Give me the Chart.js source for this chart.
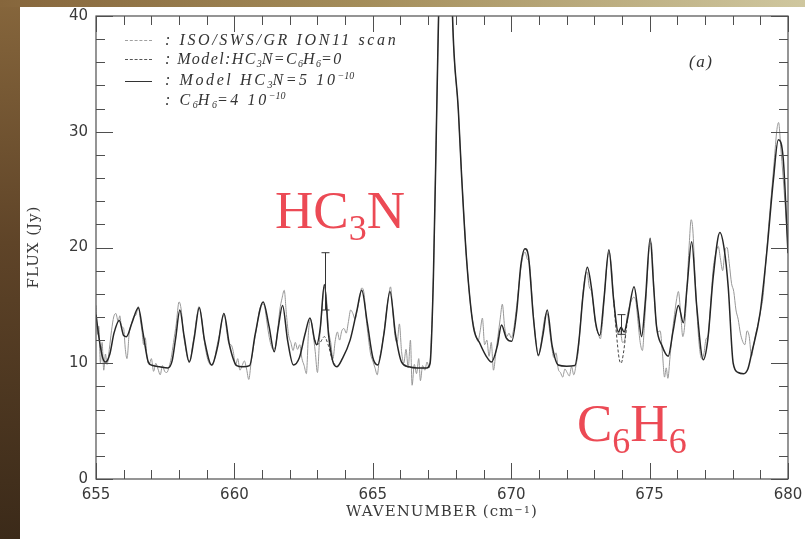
<!DOCTYPE html>
<html>
<head>
<meta charset="utf-8">
<script src="https://cdn.jsdelivr.net/npm/chart.js@4.4.1/dist/chart.umd.min.js"></script>
<style>
  html, body { margin: 0; padding: 0; }
  body { width: 805px; height: 539px; position: relative; overflow: hidden; background: #fff; }
  .edge-left { position: absolute; left: 0; top: 0; width: 20px; height: 539px; background: linear-gradient(180deg, #86663c 0%, #5f4428 45%, #3b2a19 100%); }
  .edge-top { position: absolute; left: 0; top: 0; width: 805px; height: 7px; background: linear-gradient(90deg, #86663c 0%, #a48d5a 45%, #cfc79f 100%); }
  #wrap { position: absolute; left: 20px; top: 7px; width: 785px; height: 532px; }
  .axis-title { position: absolute; font: 15px 'DejaVu Serif', serif; color: #3a3a3a; letter-spacing: 1px; white-space: nowrap; text-align: center; line-height: 20px; }
  .axis-title sup { font-size: 10px; position: relative; top: -3px; vertical-align: baseline; }
  .legend { position: absolute; left: 0; top: 0; font: italic 16px 'Liberation Serif', serif; color: #333; letter-spacing: 2.6px; white-space: nowrap; }
  .legend .row { position: absolute; left: 165px; line-height: 16px; }
  .legend sub { font-size: 10px; vertical-align: baseline; position: relative; top: 3px; letter-spacing: 0; }
  .legend sup { font-size: 10px; vertical-align: baseline; position: relative; top: -6px; letter-spacing: 0; }
  .sample { position: absolute; left: 125px; width: 27px; height: 0; }
  .red { position: absolute; color: #ec4a55; font: 53px 'Liberation Serif', serif; line-height: 53px; white-space: nowrap; }
  .red span { font-size: 36px; position: relative; top: 12px; line-height: 36px; }
</style>
</head>
<body>
<div class="edge-left"></div>
<div class="edge-top"></div>
<div id="wrap"><canvas id="chart" width="785" height="532"></canvas></div>

<div class="legend">
  <div class="sample" style="top:40px;border-top:1px dashed #a0a0a0"></div>
  <div class="sample" style="top:59px;border-top:1px dashed #555"></div>
  <div class="sample" style="top:81px;border-top:1.4px solid #333"></div>
  <div class="row" style="top:32px">: ISO/SWS/GR ION11 scan</div>
  <div class="row" style="top:51px;letter-spacing:1.4px">: Model:HC<sub>3</sub>N=C<sub>6</sub>H<sub>6</sub>=0</div>
  <div class="row" style="top:72px">: Model HC<sub>3</sub>N=5 10<sup>−10</sup></div>
  <div class="row" style="top:92px">: C<sub>6</sub>H<sub>6</sub>=4 10<sup>−10</sup></div>
  <div class="row" style="left:689px;top:54px;font-size:17px;letter-spacing:1.5px">(a)</div>
</div>

<div class="axis-title" style="left:342px;top:501px;width:200px">WAVENUMBER (cm<sup>−1</sup>)</div>
<div class="axis-title" style="left:-27px;top:237px;width:120px;transform:rotate(-90deg)">FLUX (Jy)</div>

<div class="red" style="left:275px;top:184px">HC<span>3</span>N</div>
<div class="red" style="left:577px;top:397px">C<span>6</span>H<span>6</span></div>

<script>
const xTicks = [655, 660, 665, 670, 675, 680]
const yTicks = [0, 10, 20, 30, 40]

// model with HC3N and C6H6 (solid)
const modelWn = [
  655.00, 655.12, 655.25, 655.35, 655.50, 655.65, 655.84, 656.00, 656.10, 656.30,
  656.53, 656.70, 656.89, 657.05, 657.30, 657.60, 657.75, 657.88, 658.03, 658.18,
  658.37, 658.55, 658.73, 658.92, 659.18, 659.40, 659.62, 659.82, 660.08, 660.30,
  660.55, 660.75, 661.04, 661.25, 661.44, 661.58, 661.74, 661.92, 662.13, 662.35,
  662.55, 662.73, 662.90, 662.97, 663.10, 663.25, 663.40, 663.55, 663.70, 663.90,
  664.18, 664.42, 664.60, 664.80, 665.00, 665.18, 665.40, 665.62, 665.82, 666.04,
  666.30, 666.60, 666.95, 667.07, 667.19, 667.31, 667.42, 667.70, 667.88, 668.09,
  668.21, 668.39, 668.63, 668.87, 669.10, 669.29, 669.50, 669.65, 669.82, 670.02,
  670.20, 670.35, 670.50, 670.62, 670.80, 670.98, 671.15, 671.30, 671.48, 671.70,
  672.00, 672.30, 672.45, 672.60, 672.75, 672.90, 673.05, 673.20, 673.35, 673.53,
  673.70, 673.87, 673.97, 674.08, 674.20, 674.44, 674.58, 674.71, 674.85, 675.02,
  675.15, 675.25, 675.45, 675.67, 675.85, 676.04, 676.22, 676.35, 676.52, 676.70,
  676.94, 677.10, 677.30, 677.54, 677.70, 677.84, 678.02, 678.20, 678.40, 678.55,
  678.69, 678.99, 679.23, 679.47, 679.65, 679.83, 680.00
]
const modelFlux = [
  14.2, 12.0, 10.4, 10.1, 10.8, 12.6, 13.7, 12.4, 12.3, 13.5,
  14.8, 12.6, 10.1, 9.8, 9.7, 9.6, 10.2, 12.2, 14.6, 12.4,
  10.1, 12.2, 14.8, 12.0, 9.85, 11.5, 14.3, 11.6, 9.8, 9.7,
  9.8, 12.5, 15.3, 13.2, 11.0, 13.0, 15.0, 12.0, 9.85, 10.5,
  12.5, 13.9, 12.0, 11.6, 13.0, 16.8, 12.5, 10.2, 9.7, 10.4,
  12.0, 14.5, 16.3, 13.5, 10.5, 9.85, 12.5, 16.2, 12.5, 10.1,
  9.7, 9.6, 9.6, 10.0, 17.5, 31.9, 45.0, 62.0, 40.0, 31.9,
  26.1, 18.9, 13.2, 11.7, 10.6, 10.1, 11.5, 13.3, 12.2, 11.9,
  14.5, 18.5, 19.9, 19.3, 14.0, 10.7, 12.5, 14.6, 11.5, 9.85,
  9.75, 9.8, 12.0, 16.0, 18.3, 16.5, 13.5, 12.4, 15.5, 19.8,
  15.5, 12.7, 13.1, 12.7, 13.8, 16.6, 14.5, 12.3, 15.5, 20.8,
  16.5, 13.2, 11.5, 10.6, 12.8, 15.0, 13.5, 16.5, 20.5, 15.0,
  10.3, 12.0, 17.5, 21.3, 19.8, 16.6, 10.0, 9.2, 9.1, 9.5,
  10.9, 14.3, 19.5, 25.8, 29.3, 27.6, 19.5
]

// model without HC3N / C6H6 (dashed), only where it leaves the solid curve
const baseWn = [662.90, 662.97, 663.10, 663.25, 663.40, 663.55, 663.70, null,
  673.70, 673.80, 673.90, 673.97, 674.05, 674.20]
const baseFlux = [12.0, 11.6, 11.8, 12.3, 11.5, 10.2, 9.7, null,
  15.5, 12.6, 10.4, 10.0, 10.8, 13.8]

// ISO/SWS observed scan (grey)
const obsWn = [
  655.00, 655.06, 655.10, 655.16, 655.22, 655.28, 655.34, 655.40, 655.48, 655.56,
  655.64, 655.72, 655.80, 655.86, 655.92, 656.00, 656.06, 656.12, 656.20, 656.28,
  656.36, 656.45, 656.53, 656.60, 656.66, 656.72, 656.78, 656.84, 656.92, 657.00,
  657.08, 657.16, 657.24, 657.32, 657.40, 657.48, 657.56, 657.64, 657.72, 657.80,
  657.90, 658.00, 658.08, 658.16, 658.24, 658.32, 658.40, 658.48, 658.56, 658.64,
  658.72, 658.80, 658.88, 658.96, 659.04, 659.12, 659.20, 659.28, 659.38, 659.48,
  659.56, 659.64, 659.72, 659.80, 659.88, 659.96, 660.04, 660.12, 660.20, 660.28,
  660.36, 660.44, 660.52, 660.60, 660.70, 660.80, 660.90, 661.00, 661.08, 661.16,
  661.24, 661.32, 661.40, 661.48, 661.56, 661.64, 661.72, 661.80, 661.88, 661.96,
  662.04, 662.12, 662.20, 662.28, 662.36, 662.44, 662.52, 662.60, 662.68, 662.76,
  662.84, 662.92, 663.00, 663.08, 663.16, 663.24, 663.32, 663.40, 663.48, 663.56,
  663.64, 663.72, 663.80, 663.88, 663.96, 664.04, 664.12, 664.20, 664.28, 664.36,
  664.44, 664.52, 664.60, 664.68, 664.76, 664.84, 664.92, 665.00, 665.08, 665.16,
  665.24, 665.32, 665.40, 665.48, 665.56, 665.64, 665.72, 665.80, 665.88, 665.96,
  666.04, 666.12, 666.20, 666.28, 666.36, 666.42, 666.50, 666.58, 666.66, 666.72,
  666.80, 666.88, 666.96, 667.04, 667.10, 667.19, 667.31, 667.42, 667.70, 667.88,
  668.09, 668.21, 668.39, 668.55, 668.63, 668.72, 668.80, 668.88, 668.96, 669.04,
  669.12, 669.20, 669.28, 669.36, 669.44, 669.52, 669.60, 669.68, 669.76, 669.84,
  669.92, 670.00, 670.10, 670.20, 670.30, 670.40, 670.50, 670.58, 670.66, 670.74,
  670.82, 670.90, 670.98, 671.06, 671.14, 671.22, 671.30, 671.38, 671.46, 671.54,
  671.62, 671.70, 671.78, 671.86, 671.94, 672.02, 672.10, 672.18, 672.26, 672.34,
  672.42, 672.50, 672.58, 672.66, 672.74, 672.82, 672.90, 672.98, 673.06, 673.14,
  673.22, 673.30, 673.38, 673.46, 673.54, 673.62, 673.70, 673.78, 673.86, 673.94,
  674.02, 674.10, 674.18, 674.26, 674.34, 674.42, 674.50, 674.58, 674.66, 674.74,
  674.82, 674.90, 674.98, 675.06, 675.14, 675.22, 675.30, 675.38, 675.46, 675.54,
  675.60, 675.66, 675.74, 675.82, 675.90, 675.98, 676.04, 676.12, 676.20, 676.28,
  676.36, 676.44, 676.50, 676.56, 676.64, 676.72, 676.80, 676.88, 676.96, 677.04,
  677.12, 677.20, 677.30, 677.40, 677.48, 677.56, 677.64, 677.72, 677.80, 677.88,
  677.96, 678.04, 678.12, 678.20, 678.28, 678.36, 678.44, 678.52, 678.60, 678.68,
  678.76, 678.84, 678.92, 679.00, 679.10, 679.20, 679.30, 679.40, 679.50, 679.60,
  679.66, 679.74, 679.82, 679.90, 680.00
]
const obsFlux = [
  15.0, 12.5, 13.2, 10.0, 11.8, 9.4, 10.8, 9.9, 11.2, 12.8,
  14.0, 14.3, 13.6, 14.1, 13.2, 13.0, 11.2, 10.4, 12.6, 13.4,
  14.0, 14.2, 14.9, 13.8, 12.8, 11.6, 12.2, 10.6, 9.9, 10.4,
  9.3, 10.0, 9.5, 9.0, 9.8, 9.3, 9.2, 9.7, 10.5, 11.8,
  13.4, 15.3, 14.6, 12.5, 11.3, 10.3, 10.2, 11.4, 12.6, 14.0,
  14.9, 14.2, 12.5, 11.2, 10.3, 9.9, 9.8, 10.3, 11.6, 12.7,
  13.8, 14.2, 12.8, 11.7, 11.6, 11.0, 9.8, 10.4, 9.4, 9.8,
  10.2, 9.5, 8.6, 10.0, 11.6, 13.0, 14.5, 15.1, 15.0, 13.8,
  12.5, 11.6, 11.2, 11.4, 12.8, 14.6, 15.6, 16.3, 14.2, 12.4,
  11.8, 11.1, 11.8, 11.2, 11.6, 10.4, 9.8, 9.1, 12.8, 13.8,
  12.6, 11.0, 9.2, 12.2, 14.5, 16.6, 15.8, 12.9, 11.8, 10.4,
  11.9, 12.7, 12.0, 12.8, 13.0, 12.6, 13.6, 14.6, 14.3, 13.8,
  14.6, 15.6, 16.5, 16.1, 13.9, 12.2, 10.8, 10.2, 9.6, 9.0,
  10.4, 11.3, 12.6, 14.2, 15.6, 16.6, 14.6, 12.4, 11.8, 13.4,
  11.0, 10.0, 11.2, 9.6, 12.0, 8.1, 9.9, 9.1, 10.4, 8.5,
  9.8, 9.4, 10.1, 9.6, 11.5, 17.6, 32.0, 45.0, 62.0, 40.0,
  31.8, 26.2, 19.0, 14.6, 13.4, 12.4, 11.9, 12.8, 13.9, 11.6,
  12.0, 10.6, 11.8, 9.4, 10.8, 12.3, 13.8, 15.1, 13.2, 12.3,
  12.6, 12.2, 13.1, 15.0, 17.2, 19.0, 19.6, 19.0, 18.6, 16.2,
  13.6, 11.8, 10.6, 11.4, 12.8, 14.0, 14.3, 13.0, 11.5, 10.5,
  10.9, 9.5, 9.2, 8.8, 9.5, 9.2, 8.9, 9.7, 9.0, 9.8,
  11.0, 13.4, 15.7, 17.4, 17.9, 16.6, 16.2, 14.8, 13.2, 12.6,
  12.1, 13.6, 16.2, 18.6, 19.6, 18.4, 15.6, 13.4, 12.5, 12.8,
  11.8, 12.0, 13.9, 14.8, 15.4, 15.7, 15.4, 13.6, 11.8, 11.1,
  13.6, 16.8, 19.8, 20.4, 17.2, 13.9, 12.7, 12.8, 11.0, 8.8,
  9.6, 8.7, 10.6, 12.6, 14.2, 15.6, 16.2, 14.4, 12.3, 13.6,
  17.0, 20.6, 22.4, 21.6, 17.6, 14.0, 11.4, 10.4, 10.8, 12.1,
  12.4, 15.0, 18.2, 19.6, 20.1, 19.0, 18.0, 19.7, 20.0, 18.6,
  16.9, 16.2, 14.6, 13.8, 12.6, 11.9, 11.6, 12.8, 12.3, 10.6,
  11.6, 12.6, 13.4, 14.4, 15.8, 18.8, 21.8, 24.6, 27.4, 30.2,
  30.8, 28.6, 26.2, 23.6, 20.2
]

// error bars on the observed scan at the two Q-branches
const errWn = [663.27, 673.98]
const errLow = [14.6, 12.5]
const errHigh = [19.55, 14.2]

const toPoints = (xs, ys) => xs.map((x, i) => ({ x, y: ys[i] }))

const innerTicks = {
  id: 'innerTicks',
  afterDatasetsDraw(chart) {
    const { ctx, chartArea: a, scales } = chart
    const xs = scales.x
    const ys = scales.y
    ctx.save()
    ctx.strokeStyle = '#4f4f4f'
    ctx.lineWidth = 1.2
    ctx.strokeRect(a.left, a.top, a.right - a.left, a.bottom - a.top)

    ctx.lineWidth = 1
    ctx.beginPath()
    for (let v = xs.min; v <= xs.max; v += 1) {
      const px = Math.round(xs.getPixelForValue(v)) + 0.5
      const len = xTicks.includes(v) ? 16 : 9
      ctx.moveTo(px, a.bottom)
      ctx.lineTo(px, a.bottom - len)
      ctx.moveTo(px, a.top)
      ctx.lineTo(px, a.top + len)
    }
    for (let v = ys.min; v <= ys.max; v += 2) {
      const py = Math.round(ys.getPixelForValue(v)) + 0.5
      const len = yTicks.includes(v) ? 17 : 9
      ctx.moveTo(a.left, py)
      ctx.lineTo(a.left + len, py)
      ctx.moveTo(a.right, py)
      ctx.lineTo(a.right - len, py)
    }
    ctx.stroke()

    ctx.strokeStyle = '#333'
    ctx.beginPath()
    errWn.forEach((w, i) => {
      const px = Math.round(xs.getPixelForValue(w)) + 0.5
      const top = ys.getPixelForValue(errHigh[i])
      const bot = ys.getPixelForValue(errLow[i])
      ctx.moveTo(px, top)
      ctx.lineTo(px, bot)
      ctx.moveTo(px - 4, top)
      ctx.lineTo(px + 4, top)
      ctx.moveTo(px - 4, bot)
      ctx.lineTo(px + 4, bot)
    })
    ctx.stroke()
    ctx.restore()
  },
}

const tickFont = { family: 'DejaVu Sans', size: 15 }

new Chart(document.getElementById('chart'), {
  type: 'scatter',
  data: {
    datasets: [
      {
        label: 'Model HC3N=5 10^-10 : C6H6=4 10^-10',
        data: toPoints(modelWn, modelFlux),
        showLine: true,
        borderColor: '#262626',
        borderWidth: 1.5,
        pointRadius: 0,
        cubicInterpolationMode: 'monotone',
        order: 0,
      },
      {
        label: 'Model:HC3N=C6H6=0',
        data: toPoints(baseWn, baseFlux),
        showLine: true,
        spanGaps: false,
        borderColor: '#444',
        borderWidth: 1,
        borderDash: [3, 2],
        pointRadius: 0,
        cubicInterpolationMode: 'monotone',
        order: 1,
      },
      {
        label: 'ISO/SWS/GR ION11 scan',
        data: toPoints(obsWn, obsFlux),
        showLine: true,
        borderColor: '#979797',
        borderWidth: 1,
        pointRadius: 0,
        cubicInterpolationMode: 'monotone',
        order: 2,
      },
    ],
  },
  options: {
    responsive: false,
    animation: false,
    devicePixelRatio: 1,
    layout: { padding: { left: 0, right: 17, top: 9, bottom: 0 } },
    scales: {
      x: {
        type: 'linear',
        min: 655,
        max: 680,
        afterBuildTicks: (scale) => { scale.ticks = xTicks.map((value) => ({ value })) },
        afterFit: (scale) => {
          scale.height = 60
          scale.paddingLeft = 0
          scale.paddingRight = 0
        },
        ticks: { color: '#3a3a3a', font: tickFont, padding: 7, maxRotation: 0 },
        grid: { display: false, drawTicks: false },
        border: { display: false },
      },
      y: {
        type: 'linear',
        min: 0,
        max: 40,
        afterBuildTicks: (scale) => { scale.ticks = yTicks.map((value) => ({ value })) },
        afterFit: (scale) => {
          scale.width = 76
          scale.paddingTop = 0
          scale.paddingBottom = 0
        },
        ticks: { color: '#3a3a3a', font: tickFont, padding: 8 },
        grid: { display: false, drawTicks: false },
        border: { display: false },
      },
    },
    plugins: {
      legend: { display: false },
      tooltip: { enabled: false },
    },
  },
  plugins: [innerTicks],
})
</script>
</body>
</html>
